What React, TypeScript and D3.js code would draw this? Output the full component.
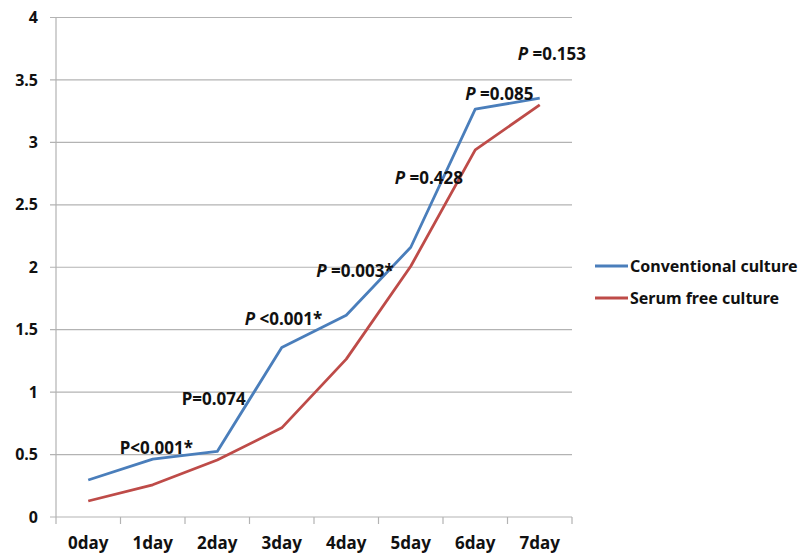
import React from "react";
import * as d3 from "d3";

const categories = ["0day", "1day", "2day", "3day", "4day", "5day", "6day", "7day"];
const conventional = [0.296, 0.464, 0.525, 1.357, 1.616, 2.16, 3.266, 3.354];
const serumFree = [0.128, 0.258, 0.456, 0.714, 1.264, 2.008, 2.94, 3.30];
const yTicks = [0, 0.5, 1, 1.5, 2, 2.5, 3, 3.5, 4];
const seriesNames = ["Conventional culture", "Serum free culture"];
const seriesColors = ["#4A7EBB", "#BE4B48"];

// P-value annotations anchored to category index / value
const pLabels: { italic: boolean; rest: string; cat: number; val: number; dx: number }[] = [
  { italic: false, rest: "<0.001*", cat: 1, val: 0.505, dx: -33 },
  { italic: false, rest: "=0.074", cat: 2, val: 0.895, dx: -35.5 },
  { italic: true, rest: " <0.001*", cat: 3, val: 1.535, dx: -37 },
  { italic: true, rest: " =0.003*", cat: 4, val: 1.92, dx: -30 },
  { italic: true, rest: " =0.428", cat: 5, val: 2.665, dx: -16 },
  { italic: true, rest: " =0.085", cat: 6, val: 3.338, dx: -10 },
  { italic: true, rest: " =0.153", cat: 7, val: 3.658, dx: -22 },
];

const W = 802;
const H = 554;
const left = 56;
const right = 572;
const top = 17.5;
const bottom = 517;
const font = "'Noto Sans', 'Open Sans', sans-serif";

export default function App() {
  const x = d3.scaleBand<string>().domain(categories).range([left, right]);
  const y = d3.scaleLinear().domain([0, 4]).range([bottom, top]);
  const cx = (i: number) => (x(categories[i]) as number) + x.bandwidth() / 2;
  const line = d3
    .line<number>()
    .x((_, i) => cx(i))
    .y((d) => y(d));
  const boundaries = d3.range(categories.length + 1).map((i) => left + i * x.bandwidth());

  return (
    <svg
      width={W}
      height={H}
      style={{ position: "absolute", left: 0, top: 0, background: "#fff" }}
      fontFamily={font}
    >
      {yTicks.map((t) => (
        <g key={t}>
          <line x1={50} x2={right} y1={y(t)} y2={y(t)} stroke="#B3B3B3" strokeWidth={1.2} />
          <text x={38} y={y(t)} dy="0.35em" textAnchor="end" fontSize={16} fontWeight="bold" fill="#111">
            {t}
          </text>
        </g>
      ))}
      <line x1={left} x2={left} y1={top} y2={bottom} stroke="#B3B3B3" strokeWidth={1.2} />
      {boundaries.map((b, i) => (
        <line key={i} x1={b} x2={b} y1={bottom} y2={bottom + 7} stroke="#B3B3B3" strokeWidth={1.2} />
      ))}
      {categories.map((c, i) => (
        <text key={c} x={cx(i)} y={549} textAnchor="middle" fontSize={17} fontWeight="bold" fill="#111">
          {c}
        </text>
      ))}
      {[conventional, serumFree].map((s, k) => (
        <path key={k} d={line(s) || ""} fill="none" stroke={seriesColors[k]} strokeWidth={2.8} strokeLinejoin="round" />
      ))}
      {pLabels.map((p, i) => (
        <text key={i} x={cx(p.cat) + p.dx} y={y(p.val)} fontSize={17} fontWeight="bold" fill="#111">
          <tspan fontStyle={p.italic ? "italic" : "normal"}>P</tspan>
          <tspan>{p.rest}</tspan>
        </text>
      ))}
      {seriesNames.map((n, k) => (
        <g key={n}>
          <line x1={595} x2={628} y1={266 + k * 32} y2={266 + k * 32} stroke={seriesColors[k]} strokeWidth={2.8} />
          <text x={630} y={266 + k * 32} dy="0.35em" fontSize={16} fontWeight="bold" fill="#111">
            {n}
          </text>
        </g>
      ))}
    </svg>
  );
}
